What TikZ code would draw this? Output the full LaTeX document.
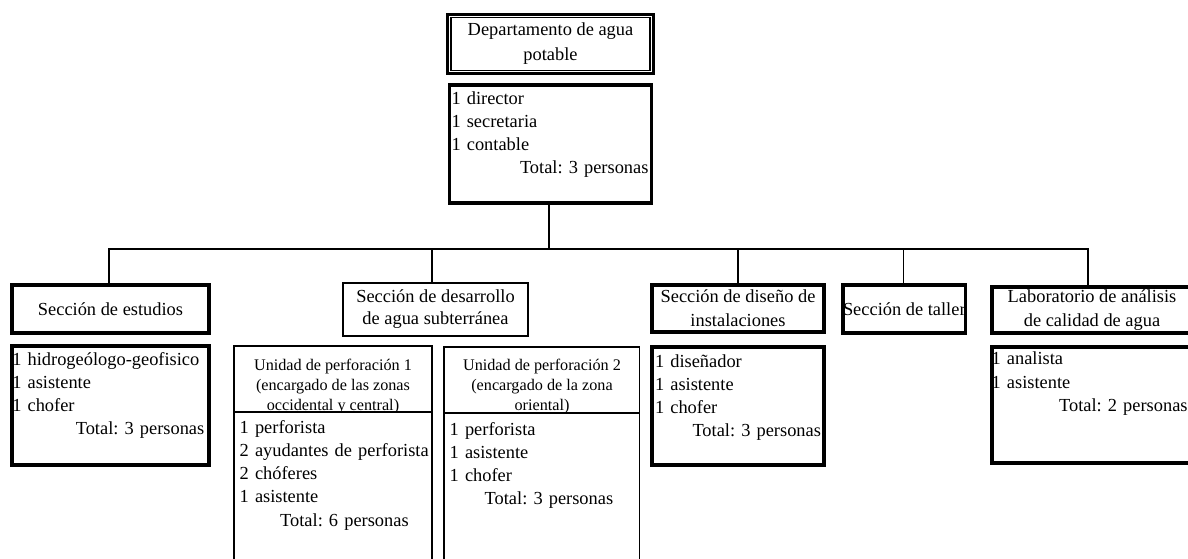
\documentclass[tikz,border=0pt]{standalone}
\usepackage{fontspec}
\setmainfont{Liberation Serif}
\frenchspacing
\begin{document}
\begin{tikzpicture}[
  x=0.5pt, y=-0.5pt,
  every node/.style={inner sep=0pt, outer sep=0pt},
  heavy/.style={draw, line width=1.6pt},
  light/.style={draw, line width=0.65pt},
  wire/.style={line width=0.6pt},
  box/.style={rectangle, anchor=north west, align=center, font=\fontsize{9.2}{12}\selectfont},
  stafflist/.style={anchor=north west, align=left, text width=#1, font=\fontsize{9.2}{11.65}\selectfont},
  unithead/.style={anchor=north, align=center, font=\fontsize{8.1}{10}\selectfont},
]
\useasboundingbox (0,0) rectangle (1188,558);

% department header (double frame) and its staff
\node[box, heavy, minimum width=103pt, minimum height=29.5pt, font=\fontsize{9.2}{12.5}\selectfont]
  (dept) at (447.5,14.5) {Departamento de agua\\potable};
\draw[line width=0.7pt] ([xshift=1.7pt,yshift=-1.6pt]dept.north west) rectangle ([xshift=-1.7pt,yshift=1.6pt]dept.south east);

\node[box, heavy, minimum width=101pt, minimum height=59pt] (deptstaff) at (449.5,85) {};
\node[stafflist=98.5pt] (deptlist) at (451.5,87.7)
  {\strut 1 director\\1 secretaria\\1 contable\\\hspace*{0pt plus 1filll}Total: 3 personas};

% Sección de estudios
\node[box, heavy, minimum width=98.5pt, minimum height=24pt] (estudios) at (12,285) {Sección de estudios};
\node[box, heavy, minimum width=98.5pt, minimum height=59.5pt] (estudiosstaff) at (12,346) {};
\node[stafflist=96pt] (estudioslist) at (12.3,348.7)
  {\strut 1 hidrogeólogo-geofisico\\1 asistente\\1 chofer\\\hspace*{0pt plus 1filll}Total: 3 personas};

% Sección de desarrollo de agua subterránea
\node[box, light, minimum width=92.5pt, minimum height=26.5pt, font=\fontsize{9.2}{11}\selectfont]
  (desarrollo) at (343,283) {Sección de desarrollo\\de agua subterránea};

\node[box, light, minimum width=99pt, minimum height=114.5pt] (unitA) at (234,346) {};
\draw[light] ([yshift=-33pt]unitA.north west) -- ([yshift=-33pt]unitA.north east);
\begin{scope}
  \clip (unitA.north west) rectangle ([yshift=-33pt]unitA.north east);
  \node[unithead] (unitAhead) at (333,356)
    {\strut Unidad de perforación 1\\(encargado de las zonas\\occidental y central)};
\end{scope}
\node[stafflist=95pt] (unitAlist) at (239.7,416.7)
  {\strut 1 perforista\\2 ayudantes de perforista\\2 chóferes\\1 asistente\\\hspace*{20.25pt}Total: 6 personas};

\node[box, light, minimum width=97.75pt, minimum height=114pt] (unitB) at (444,347) {};
\draw[light] ([yshift=-33pt]unitB.north west) -- ([yshift=-33pt]unitB.north east);
\begin{scope}
  \clip (unitB.north west) rectangle ([yshift=-33pt]unitB.north east);
  \node[unithead] (unitBhead) at (542,356)
    {\strut Unidad de perforación 2\\(encargado de la zona\\oriental)};
\end{scope}
\node[stafflist=95pt] (unitBlist) at (449.7,418.7)
  {\strut 1 perforista\\1 asistente\\1 chofer\\\hspace*{17.5pt}Total: 3 personas};

% Sección de diseño de instalaciones
\node[box, heavy, minimum width=86pt, minimum height=23.5pt] (diseno) at (652,285) {Sección de diseño de\\instalaciones};
\node[box, heavy, minimum width=86pt, minimum height=59pt] (disenostaff) at (652,347) {};
\node[stafflist=83pt] (disenolist) at (655,350.7)
  {\strut 1 diseñador\\1 asistente\\1 chofer\\\hspace*{0pt plus 1filll}Total: 3 personas};

% Sección de taller (frame drawn over the text)
\node[box, minimum width=61pt, minimum height=24pt] (taller) at (843,285) {Sección de taller};
\draw[line width=1.6pt] (taller.north west) rectangle (taller.south east);

% Laboratorio de análisis de calidad de agua
\node[box, heavy, minimum width=100pt, minimum height=23pt] (lab) at (992,287) {Laboratorio de análisis\\de calidad de agua};
\node[box, heavy, minimum width=100pt, minimum height=58pt] (labstaff) at (992,347) {};
\node[stafflist=98pt] (lablist) at (991.6,348.5)
  {\strut 1 analista\\1 asistente\\\hspace*{0pt plus 1filll}Total: 2 personas};

% connectors
\coordinate (bus) at (549,249);
\coordinate (trunk) at ([xshift=-0.75pt]deptstaff.south);
\coordinate (dropA) at ([xshift=-0.75pt]estudios.north);
\coordinate (dropB) at ([xshift=-1.75pt]desarrollo.north);
\coordinate (dropC) at (diseno.north);
\coordinate (dropD) at ([xshift=-0.5pt]taller.north);
\coordinate (dropE) at ([xshift=-2pt]lab.north);
\draw[wire] (trunk) -- (trunk |- bus);
\draw[wire] (dropA) -- (dropA |- bus) -- (dropE |- bus) -- (dropE);
\foreach \d in {dropB, dropC, dropD} \draw[wire] (\d) -- (\d |- bus);
\end{tikzpicture}
\end{document}
